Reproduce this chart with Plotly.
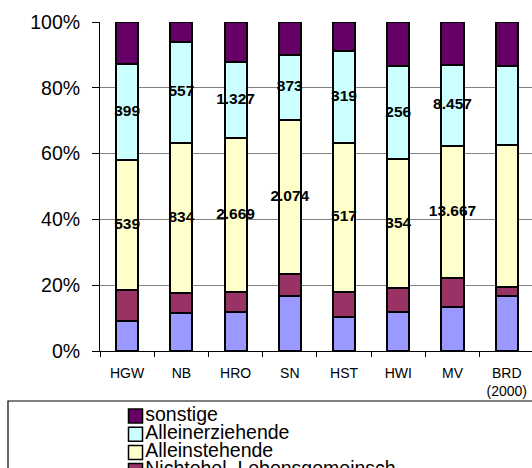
import plotly.graph_objects as go

categories = ["HGW", "NB", "HRO", "SN", "HST", "HWI", "MV", "BRD<br>(2000)"]

# series, bottom to top (percent shares)
ehepaare = [9.1, 11.5, 11.9, 16.7, 10.4, 11.9, 13.3, 16.8]
nichtehel = [9.3, 6.2, 5.9, 6.6, 7.6, 7.2, 8.8, 2.7]
alleinstehende = [39.6, 45.6, 46.9, 46.9, 45.3, 39.2, 40.2, 43.1]
alleinerziehende = [29.2, 30.7, 23.0, 19.8, 28.0, 28.3, 24.6, 24.1]
sonstige = [12.8, 6.0, 12.3, 10.0, 8.7, 13.4, 13.1, 13.3]

# counts shown as labels
labels_alleinerziehende = ["399", "557", "1.327", "873", "319", "256", "8.457", ""]
labels_alleinstehende = ["539", "834", "2.669", "2.074", "517", "354", "13.667", ""]

series_names = ["Ehepaare", "Nichtehel. Lebensgemeinsch.", "Alleinstehende",
                "Alleinerziehende", "sonstige"]
series_values = [ehepaare, nichtehel, alleinstehende, alleinerziehende, sonstige]
series_colors = ["#9999FF", "#993366", "#FFFFCC", "#CCFFFF", "#660066"]

y_ticks = [0, 20, 40, 60, 80, 100]
y_tick_labels = ["0%", "20%", "40%", "60%", "80%", "100%"]

FONT = "Liberation Sans, Arial, sans-serif"
W, H = 532, 468

fig = go.Figure()

for name, vals, col in zip(series_names, series_values, series_colors):
    fig.add_trace(go.Bar(
        x=categories, y=vals, name=name,
        marker=dict(color=col, line=dict(color="black", width=2)),
        showlegend=False, hoverinfo="x+y+name",
    ))

# labels centered on segments
base_ae = [a + b + c for a, b, c in zip(ehepaare, nichtehel, alleinstehende)]
mid_ae = [b + v / 2 for b, v in zip(base_ae, alleinerziehende)]
base_as = [a + b for a, b in zip(ehepaare, nichtehel)]
mid_as = [b + v / 2 for b, v in zip(base_as, alleinstehende)]

fig.add_trace(go.Scatter(
    x=categories + categories, y=mid_ae + mid_as,
    text=labels_alleinerziehende + labels_alleinstehende,
    mode="text", textposition="middle center",
    textfont=dict(family=FONT, size=15.5, color="black", weight="bold"),
    showlegend=False, hoverinfo="skip", cliponaxis=False,
))

# legend drawn as a trace in its own small axes (top series first)
leg_names = series_names[::-1]
leg_colors = series_colors[::-1]
fig.add_trace(go.Scatter(
    x=[0] * len(leg_names), y=list(range(len(leg_names))),
    xaxis="x2", yaxis="y2",
    mode="markers+text", text=leg_names, textposition="middle right",
    marker=dict(symbol="square", size=14, color=leg_colors,
                line=dict(color="black", width=1.5)),
    textfont=dict(family=FONT, size=19.5, color="black"),
    showlegend=False, hoverinfo="skip", cliponaxis=True,
))

fig.update_layout(
    width=W, height=H, autosize=False,
    margin=dict(l=0, r=0, t=0, b=0, pad=0, autoexpand=False),
    paper_bgcolor="white", plot_bgcolor="white",
    barmode="stack", bargap=0.594,
    font=dict(family=FONT, color="black"),
    xaxis=dict(
        domain=[100 / W, 1], type="category", range=[-0.5, 7.466],
        showline=True, linecolor="black", linewidth=1,
        ticks="outside", tickson="boundaries", ticklen=5, tickcolor="black",
        tickfont=dict(family=FONT, size=14, color="black"),
        ticklabelstandoff=9,
        showgrid=False, fixedrange=True, automargin=False,
    ),
    yaxis=dict(
        domain=[117 / H, 446 / H], range=[0, 100],
        tickmode="array", tickvals=y_ticks, ticktext=y_tick_labels,
        showline=True, linecolor="black", linewidth=1,
        ticks="outside", ticklen=7, tickcolor="black",
        tickfont=dict(family=FONT, size=19.5, color="black"),
        ticklabelstandoff=8,
        showgrid=True, gridcolor="#808080", gridwidth=1,
        zeroline=False, fixedrange=True, automargin=False,
    ),
    xaxis2=dict(domain=[0, 1], range=[-135.5, W - 135.5], anchor="y2",
                visible=False, fixedrange=True, automargin=False),
    yaxis2=dict(domain=[0, 67 / H], range=[2.857, -0.824], anchor="x2",
                visible=False, fixedrange=True, automargin=False),
    shapes=[dict(type="rect", xref="paper", yref="paper",
                 x0=8 / W, x1=1.05, y0=-0.05, y1=67 / H,
                 line=dict(color="black", width=1.2), fillcolor="rgba(0,0,0,0)",
                 layer="below")],
)

fig.write_html("out.html")
